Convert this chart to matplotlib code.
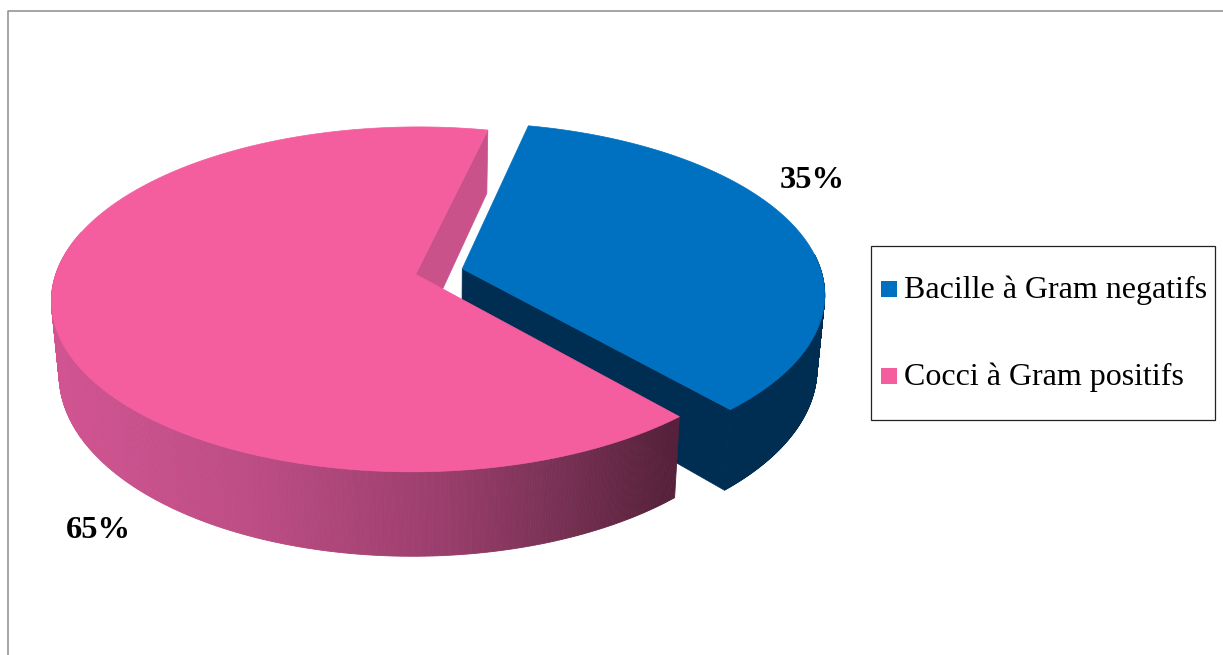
import numpy as np
import matplotlib.pyplot as plt
from matplotlib.patches import Polygon, Rectangle

categories = ["Bacille à Gram negatifs", "Cocci à Gram positifs"]
values = [35, 65]
value_labels = ["35%", "65%"]
top_colors = ["#0070C0", "#F45E9F"]

# pie geometry, in pixels
center_x, center_y = 439, 271.5
radius_x, radius_y = 359, 168
perspective = 0.145
depth = 72
bottom_scale = 0.98
explode = 0.067
start_angle = 77.3


def project(u, v, bottom=False):
    w = 1 + perspective * v
    x = radius_x * u / w
    y = -radius_y * v / w
    if bottom:
        return center_x + x * bottom_scale, center_y + y + depth / w
    return center_x + x, center_y + y


def slice_offset(a1, a2):
    mid = np.radians((a1 + a2) / 2)
    return explode * np.cos(mid), explode * np.sin(mid)


def draw_top(ax, a1, a2, color, zorder):
    ou, ov = slice_offset(a1, a2)
    t = np.radians(np.linspace(a1, a2, 200))
    x, y = project(np.r_[ou, np.cos(t) + ou], np.r_[ov, np.sin(t) + ov])
    ax.add_patch(Polygon(np.c_[x, y], fc=color, ec=color, lw=0.5, zorder=zorder))


def draw_radial_wall(ax, angle, a1, a2, color, zorder):
    ou, ov = slice_offset(a1, a2)
    t = np.radians(angle)
    u = np.array([ou, np.cos(t) + ou])
    v = np.array([ov, np.sin(t) + ov])
    xt, yt = project(u, v)
    xb, yb = project(u, v, bottom=True)
    pts = np.c_[np.r_[xt, xb[::-1]], np.r_[yt, yb[::-1]]]
    ax.add_patch(Polygon(pts, fc=color, ec=color, lw=0.5, zorder=zorder))


def draw_outer_wall(ax, a1, a2, arc_from, arc_to, color_at, zorder):
    ou, ov = slice_offset(a1, a2)
    t = np.radians(np.linspace(arc_from, arc_to, 400))
    u, v = np.cos(t) + ou, np.sin(t) + ov
    xt, yt = project(u, v)
    xb, yb = project(u, v, bottom=True)
    for i in range(len(u) - 1):
        pts = [(xt[i], yt[i]), (xt[i + 1], yt[i + 1]), (xb[i + 1], yb[i + 1]), (xb[i], yb[i])]
        c = color_at((xt[i] + xt[i + 1]) / 2)
        ax.add_patch(Polygon(pts, fc=c, ec=c, lw=0.6, zorder=zorder))


def pink_shade(x):
    stops_x = [50, 250, 450, 560, 670]
    stops = np.array([[0.82, 0.33, 0.57], [0.74, 0.30, 0.52], [0.60, 0.24, 0.42],
                      [0.47, 0.19, 0.33], [0.34, 0.13, 0.23]])
    return tuple(np.interp(x, stops_x, stops[:, i]) for i in range(3))


fig, ax = plt.subplots(figsize=(12.23, 6.55), dpi=100)
fig.subplots_adjust(0, 0, 1, 1)
ax.set_xlim(0, 1223)
ax.set_ylim(655, 0)
ax.axis("off")

# chart frame, cut by the edge of the image on the right and at the bottom
ax.plot([8, 8, 1223], [655, 10.5, 10.5], color="#8c8c8c", lw=1.1, zorder=1)

sweeps = np.array(values) / sum(values) * 360
blue_a1, blue_a2 = start_angle, start_angle - sweeps[0]
pink_a1, pink_a2 = blue_a2, blue_a2 - sweeps[1]

# blue slice goes first, the pink one overlaps its wall
navy = "#002D52"
draw_radial_wall(ax, blue_a2, blue_a1, blue_a2, navy, 2)
draw_outer_wall(ax, blue_a1, blue_a2, blue_a2, 5, lambda x: navy, 2)
draw_top(ax, blue_a1, blue_a2, top_colors[0], 3)

# only the front of the pink rim shows, the back stays behind its top
draw_radial_wall(ax, pink_a2, pink_a1, pink_a2, "#C9528A", 4)
draw_outer_wall(ax, pink_a1, pink_a2, pink_a1, -195, pink_shade, 4)
draw_top(ax, pink_a1, pink_a2, top_colors[1], 5)

serif = "Liberation Serif"
ax.text(780, 188, value_labels[0], family=serif, weight="bold", fontsize=23.4, va="baseline", zorder=6)
ax.text(66, 538, value_labels[1], family=serif, weight="bold", fontsize=23.4, va="baseline", zorder=6)

# legend box
ax.add_patch(Rectangle((870.5, 245.5), 344, 174, fc="white", ec="#222222", lw=0.9, zorder=6))
legend_rows = [(281, 298), (368, 385)]
for (marker_y, baseline), name, color in zip(legend_rows, categories, top_colors):
    ax.add_patch(Rectangle((881, marker_y), 16, 16, fc=color, ec="none", zorder=7))
    ax.text(904, baseline, name, family=serif, fontsize=23, va="baseline", color="black", zorder=7)

fig.savefig("out.png", dpi=100)
